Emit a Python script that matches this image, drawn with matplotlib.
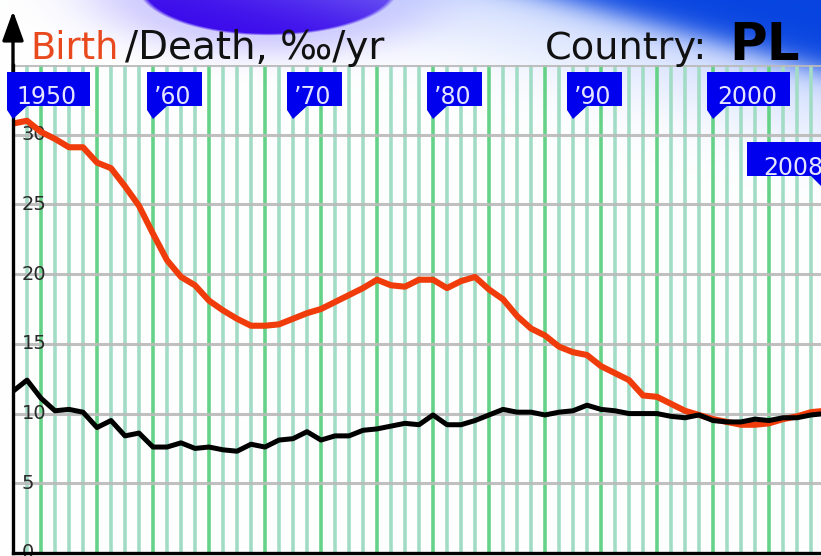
import numpy as np
import matplotlib
matplotlib.use("Agg")
import matplotlib.pyplot as plt
from matplotlib.patches import Polygon

# ---------------- data ----------------
years = list(range(1950, 2009))
birth = [30.8, 31.0, 30.2, 29.7, 29.1, 29.1, 28.0, 27.6, 26.3, 24.9,
         22.9, 21.0, 19.8, 19.2, 18.1, 17.4, 16.8, 16.3, 16.3, 16.4,
         16.8, 17.2, 17.5, 18.0, 18.5, 19.0, 19.6, 19.2, 19.1, 19.6,
         19.6, 19.0, 19.5, 19.8, 18.9, 18.2, 17.0, 16.1, 15.6, 14.8,
         14.4, 14.2, 13.4, 12.9, 12.4, 11.3, 11.2, 10.7, 10.2, 9.9,
         9.6, 9.4, 9.2, 9.2, 9.3, 9.6, 9.8, 10.1, 10.2]
death = [11.6, 12.4, 11.1, 10.2, 10.3, 10.1, 9.0, 9.5, 8.4, 8.6,
         7.6, 7.6, 7.9, 7.5, 7.6, 7.4, 7.3, 7.8, 7.6, 8.1,
         8.2, 8.7, 8.1, 8.4, 8.4, 8.8, 8.9, 9.1, 9.3, 9.2,
         9.9, 9.2, 9.2, 9.5, 9.9, 10.3, 10.1, 10.1, 9.9, 10.1,
         10.2, 10.6, 10.3, 10.2, 10.0, 10.0, 10.0, 9.8, 9.7, 9.9,
         9.5, 9.4, 9.4, 9.6, 9.5, 9.7, 9.7, 9.9, 10.0]
yticks = [0, 5, 10, 15, 20, 25, 30]
decade_years = [1950, 1960, 1970, 1980, 1990, 2000]
decade_labels = ["1950", "\u201960", "\u201970", "\u201980", "\u201990", "2000"]
last_year = 2008
last_label = "2008"

W, H = 821, 556
fig = plt.figure(figsize=(W / 100, H / 100), dpi=100)

# ---------------- decorative background ----------------
yy, xx = np.mgrid[0:H, 0:W].astype(float)
img = np.ones((H, W, 3))

def blend(img, color, alpha):
    c = np.array(color).reshape(1, 1, 3)
    a = alpha[..., None]
    return img * (1 - a) + c * a

# purple blob at top centre with lavender halo
r = np.sqrt(((xx - 268) / 128) ** 2 + ((yy + 14) / 48) ** 2)
halo = 0.45 * np.exp(-((np.clip(r - 1, 0, None)) / 0.5) ** 2)
img = blend(img, (0.62, 0.58, 1.0), halo)
core = np.clip((1.0 - r) / 0.05 + 0.5, 0, 1)
img = blend(img, (0.22, 0.02, 0.92), core)

# blue region top right
nx, ny = 100.0, 370.0
nl = np.hypot(nx, ny)
d = ((xx - 565) * nx - yy * ny) / nl
blue_halo = 0.55 / (1 + np.exp(-(d + 60) / 22))
img = blend(img, (0.70, 0.78, 1.0), blue_halo)
blue = 1 / (1 + np.exp(-d / 8))
img = blend(img, (0.03, 0.27, 0.88), blue)

bg = fig.add_axes([0, 0, 1, 1])
bg.imshow(img, extent=[0, W, H, 0], aspect="auto", interpolation="bilinear")
bg.axis("off")
bg.set_zorder(0)

# ---------------- main axes ----------------
x0_px, bottom_px, top_px, right_px = 13, 553, 65, 821
px_per_year = 14.0
ax = fig.add_axes([x0_px / W, (H - bottom_px) / H, (right_px - x0_px) / W,
                   (bottom_px - top_px) / H])
ax.set_zorder(1)
ax.patch.set_alpha(0)
ax.set_xlim(1950, 1950 + (right_px - x0_px) / px_per_year)
ax.set_ylim(0, 35)
ypp = 35 / (bottom_px - top_px)

def py2y(py):
    return (bottom_px - py) * ypp

# vertical year lines
for yr in range(1951, 2010):
    if yr % 4 == 0:
        ax.axvline(yr, color="#66d288", lw=2.6, zorder=1)
    else:
        ax.axvline(yr, color="#a3dcc6", lw=2.6, zorder=1)
# horizontal grid lines
for v in range(0, 36, 5):
    ax.axhline(v, color="#bababa", lw=2.2, zorder=2, alpha=0.9)

# y labels inside
for v in yticks:
    ax.text(1950 + 9 / px_per_year, v, str(v), ha="left", va="center",
            fontsize=14, color="#2a2a2a", zorder=3)

ax.plot(years, birth, color="#f03c0a", lw=4.4, zorder=5,
        solid_joinstyle="round", solid_capstyle="round")
ax.plot(years, death, color="#000000", lw=3.6, zorder=6,
        solid_joinstyle="round", solid_capstyle="round")

for s in ["top", "right"]:
    ax.spines[s].set_visible(False)
for s in ["left", "bottom"]:
    ax.spines[s].set_linewidth(2.4)
    ax.spines[s].set_color("black")
    ax.spines[s].set_zorder(7)
ax.set_xticks([])
ax.set_yticks([])

# arrow on y-axis
ax.annotate("", xy=(1950, py2y(11)), xytext=(1950, 34.5),
            arrowprops=dict(arrowstyle="-|>,head_length=1.8,head_width=0.65",
                            color="black", lw=2.4, shrinkA=0, shrinkB=0),
            annotation_clip=False, zorder=8)

# ---------------- decade flags ----------------
def flag(year, verts_px, text, text_dx, text_base):
    verts = [(year + dx / px_per_year, py2y(py)) for dx, py in verts_px]
    ax.add_patch(Polygon(verts, closed=True, facecolor="#0000ee",
                         edgecolor="none", zorder=9, clip_on=False))
    ax.text(year + text_dx / px_per_year, py2y(text_base), text,
            ha="center", va="baseline", fontsize=17, color="#e4e4ff",
            zorder=10, clip_on=False)

for yr, lab in zip(decade_years, decade_labels):
    w = 83 if len(lab) == 4 else 55
    verts = [(-6, 72), (w - 6, 72), (w - 6, 106), (14, 106), (0, 119), (-6, 110)]
    flag(yr, verts, lab, (w - 6 - 6) / 2 - 1.5, 104)

verts = [(-78, 142), (6, 142), (6, 180), (0, 190), (-14, 176), (-78, 176)]
flag(last_year, verts, last_label, -32, 175)

# ---------------- titles ----------------
def ftext(xp, yp, s, **kw):
    fig.text(xp / W, 1 - yp / H, s, va="baseline", ha="left", zorder=20, **kw)

ftext(30, 59, "Birth", fontsize=26.5, color="#e84a1e")
ftext(125, 59, "/Death, \u2030/yr", fontsize=28, color="#111111")
ftext(545, 59, "Country:", fontsize=27.5, color="#111111")
ftext(729, 60, "PL", fontsize=37, fontweight="bold", color="#000000")

fig.savefig("out.png", dpi=100)
